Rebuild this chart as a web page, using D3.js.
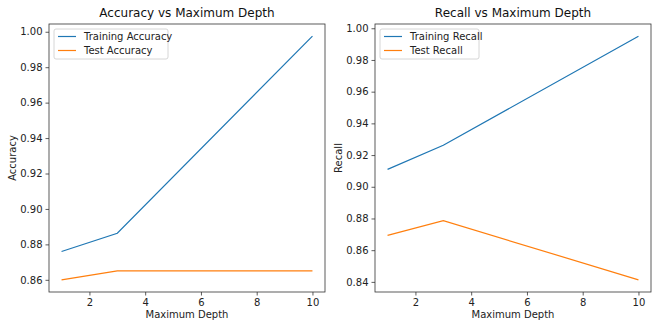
<!DOCTYPE html>
<html>
<head>
<meta charset="utf-8">
<script src="https://cdn.jsdelivr.net/npm/d3@7"></script>
<style>
  body { margin: 0; background: #fff; }
  svg { display: block; font-family: "DejaVu Sans", sans-serif; }
</style>
</head>
<body>
<svg id="chart" width="660" height="330"></svg>
<script>
// depth settings that were tried
const depths = [1, 3, 10];

// accuracy per depth
const trainAccuracy = [0.876, 0.8863, 0.9975];
const testAccuracy = [0.8600, 0.8650, 0.8650];

// recall per depth
const trainRecall = [0.911, 0.9262, 0.9950];
const testRecall = [0.8693, 0.8786, 0.8413];

const xTicks = [2, 4, 6, 8, 10];
const accTicks = [0.86, 0.88, 0.90, 0.92, 0.94, 0.96, 0.98, 1.00];
const recTicks = [0.84, 0.86, 0.88, 0.90, 0.92, 0.94, 0.96, 0.98, 1.00];

const blue = '#1f77b4', orange = '#ff7f0e';

const svg = d3.select('#chart');

function panel(cfg) {
    const g = svg.append('g');
    const x = d3.scaleLinear().domain([0.55, 10.45]).range([cfg.left, cfg.right]);
    const allVals = cfg.train.concat(cfg.test);
    const lo = d3.min(allVals), hi = d3.max(allVals), pad = (hi - lo) * 0.05;
    const y = d3.scaleLinear().domain([lo - pad, hi + pad]).range([cfg.bottom, cfg.top]);

    const xAxis = g.append('g')
        .attr('transform', `translate(0,${cfg.bottom})`)
        .call(d3.axisBottom(x).tickValues(xTicks).tickSize(3.5).tickPadding(3).tickFormat(d3.format('d')));
    const yAxis = g.append('g')
        .attr('transform', `translate(${cfg.left},0)`)
        .call(d3.axisLeft(y).tickValues(cfg.yTicks).tickSize(3.5).tickPadding(3).tickFormat(d3.format('.2f')));
    [xAxis, yAxis].forEach(a => {
        a.select('.domain').remove();
        a.selectAll('text').attr('font-size', 10).attr('fill', '#222').attr('font-family', '"DejaVu Sans", sans-serif');
        a.selectAll('line').attr('stroke', '#333').attr('stroke-width', 0.8);
    });

    const line = d3.line().x((d, i) => x(depths[i])).y(d => y(d));
    g.append('path').datum(cfg.train).attr('d', line)
        .attr('fill', 'none').attr('stroke', blue).attr('stroke-width', 1.2);
    g.append('path').datum(cfg.test).attr('d', line)
        .attr('fill', 'none').attr('stroke', orange).attr('stroke-width', 1.2);

    g.append('rect')
        .attr('x', cfg.left).attr('y', cfg.top)
        .attr('width', cfg.right - cfg.left).attr('height', cfg.bottom - cfg.top)
        .attr('fill', 'none').attr('stroke', '#333').attr('stroke-width', 0.8);

    g.append('text')
        .attr('x', (cfg.left + cfg.right) / 2).attr('y', cfg.top - 7)
        .attr('text-anchor', 'middle').attr('font-size', 12).attr('fill', '#111')
        .text(cfg.title);
    g.append('text')
        .attr('x', (cfg.left + cfg.right) / 2).attr('y', 318)
        .attr('text-anchor', 'middle').attr('font-size', 10).attr('fill', '#222')
        .text('Maximum Depth');
    g.append('text')
        .attr('transform', `translate(${cfg.left - 33},${(cfg.top + cfg.bottom) / 2}) rotate(-90)`)
        .attr('text-anchor', 'middle').attr('font-size', 10).attr('fill', '#222')
        .text(cfg.ylabel);

    // legend
    const lg = g.append('g').attr('transform', `translate(${cfg.left + 5},${cfg.top + 5})`);
    lg.append('rect').attr('width', cfg.legendW).attr('height', 30).attr('rx', 2)
        .attr('fill', '#fff').attr('fill-opacity', 0.8).attr('stroke', '#ccc').attr('stroke-width', 0.8);
    cfg.names.forEach((n, i) => {
        const yy = 7.5 + i * 14;
        lg.append('line').attr('x1', 4).attr('x2', 22).attr('y1', yy).attr('y2', yy)
            .attr('stroke', i ? orange : blue).attr('stroke-width', 1.2);
        lg.append('text').attr('x', 30).attr('y', yy + 3.5).attr('font-size', 10).attr('fill', '#222').text(n);
    });
}

panel({
    left: 49, right: 325, top: 24, bottom: 292,
    train: trainAccuracy, test: testAccuracy, yTicks: accTicks,
    title: 'Accuracy vs Maximum Depth', ylabel: 'Accuracy',
    names: ['Training Accuracy', 'Test Accuracy'], legendW: 114
});
panel({
    left: 375, right: 651, top: 24, bottom: 292,
    train: trainRecall, test: testRecall, yTicks: recTicks,
    title: 'Recall vs Maximum Depth', ylabel: 'Recall',
    names: ['Training Recall', 'Test Recall'], legendW: 99
});
</script>
</body>
</html>
